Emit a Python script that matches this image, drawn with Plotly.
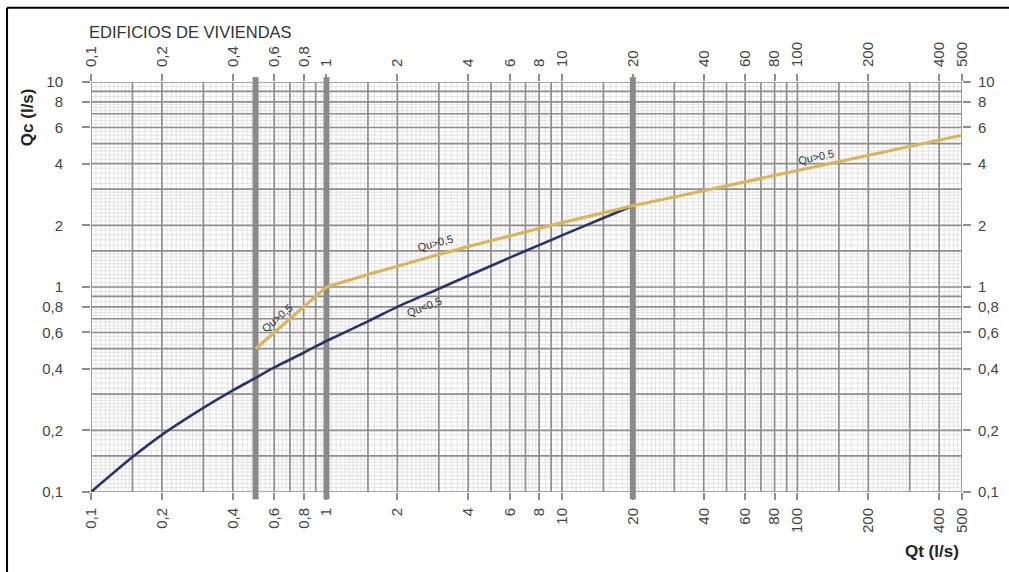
import numpy as np
import plotly.graph_objects as go

# ---- data -------------------------------------------------------------
# Qu < 0,5 curve (Qt -> Qc, l/s)
qt_low = [0.1, 0.15, 0.2, 0.3, 0.4, 0.5, 0.6, 0.8, 1, 1.5, 2, 3, 4, 6, 8, 10, 15, 20]
qc_low = [0.10, 0.148, 0.19, 0.257, 0.313, 0.36, 0.405, 0.478, 0.545, 0.68, 0.80,
          0.98, 1.135, 1.39, 1.60, 1.785, 2.17, 2.49]

# Qu > 0,5 curve
qt_high = [0.5, 0.7, 1, 1.5, 2, 3, 4, 6, 8, 10, 15, 20, 40, 100, 200, 500]
qc_high = [0.5, 0.7, 1.0, 1.15, 1.267, 1.44, 1.575, 1.777, 1.93, 2.06, 2.30, 2.49,
           2.95, 3.70, 4.38, 5.5]

# tick positions and labels
x_ticks = [0.1, 0.2, 0.4, 0.6, 0.8, 1, 2, 4, 6, 8, 10, 20, 40, 60, 80, 100, 200, 400, 500]
x_tick_text = ["0,1", "0,2", "0,4", "0,6", "0,8", "1", "2", "4", "6", "8", "10", "20",
               "40", "60", "80", "100", "200", "400", "500"]
y_ticks = [0.1, 0.2, 0.4, 0.6, 0.8, 1, 2, 4, 6, 8, 10]
y_tick_text = ["0,1", "0,2", "0,4", "0,6", "0,8", "1", "2", "4", "6", "8", "10"]

# heavy reference lines
heavy_x = [0.5, 1, 20]

X_MIN, X_MAX = 0.1, 500
Y_MIN, Y_MAX = 0.1, 10

# ---- grid helpers -----------------------------------------------------
def log_paper_grid(vmin, vmax, pattern):
    vals = []
    for dec in [0.01, 0.1, 1, 10, 100, 1000]:
        for a, b, step in pattern:
            n = int(round((b - a) / step))
            for k in range(n + 1):
                v = round(dec * (a + k * step), 6)
                if vmin - 1e-9 <= v <= vmax + 1e-9:
                    vals.append(v)
    return sorted(set(vals))

minor_pattern = [(1, 1.5, 0.05), (1.5, 2, 0.1), (2, 3, 0.1), (3, 5, 0.2),
                 (5, 8, 0.25), (8, 10, 0.5)]
major_pattern = [(1, 1.5, 0.5), (1.5, 2, 0.5), (2, 10, 1)]

minor_x = log_paper_grid(X_MIN, X_MAX, minor_pattern)
minor_y = log_paper_grid(Y_MIN, Y_MAX, minor_pattern)
major_x = log_paper_grid(X_MIN, X_MAX, major_pattern)
major_y = log_paper_grid(Y_MIN, Y_MAX, major_pattern)


def segs_vertical(xs):
    xx, yy = [], []
    for v in xs:
        xx += [v, v, None]
        yy += [Y_MIN, Y_MAX, None]
    return xx, yy


def segs_horizontal(ys):
    xx, yy = [], []
    for v in ys:
        xx += [X_MIN, X_MAX, None]
        yy += [v, v, None]
    return xx, yy


fig = go.Figure()

MINOR_C = "#dcdcdc"
MAJOR_C = "#8e8e8e"
HEAVY_C = "#8a8a8a"

for fn, vals, col, w in [(segs_vertical, minor_x, MINOR_C, 0.8),
                         (segs_horizontal, minor_y, MINOR_C, 0.8),
                         (segs_vertical, major_x, MAJOR_C, 1.7),
                         (segs_horizontal, major_y, MAJOR_C, 1.7),
                         (segs_vertical, heavy_x, HEAVY_C, 6)]:
    xx, yy = fn(vals)
    fig.add_trace(go.Scatter(x=xx, y=yy, mode="lines",
                             line=dict(color=col, width=w),
                             hoverinfo="skip", showlegend=False))

# curves
fig.add_trace(go.Scatter(x=qt_low, y=qc_low, mode="lines",
                         line=dict(color="#28356c", width=2.6, shape="spline", smoothing=0.6),
                         name="Qu<0,5", showlegend=False))
fig.add_trace(go.Scatter(x=qt_high, y=qc_high, mode="lines",
                         line=dict(color="#dcb55b", width=3.2),
                         name="Qu>0,5", showlegend=False))

# invisible trace that carries the mirrored (top/right) axes
fig.add_trace(go.Scatter(x=[1], y=[1], xaxis="x2", yaxis="y2", mode="markers",
                         marker=dict(opacity=0), hoverinfo="skip", showlegend=False))

FONT = "Liberation Sans, Arial, sans-serif"
tick_font = dict(family=FONT, size=15, color="#444444")

xcommon = dict(type="log", range=[np.log10(X_MIN), np.log10(X_MAX)],
               tickmode="array", tickvals=x_ticks, ticktext=x_tick_text,
               tickangle=-90, ticks="outside", ticklen=7, tickwidth=1.7,
               tickcolor=MAJOR_C, showgrid=False, zeroline=False, showline=False,
               tickfont=tick_font, fixedrange=True, automargin=False)
ycommon = dict(type="log", range=[np.log10(Y_MIN), np.log10(Y_MAX)],
               tickmode="array", tickvals=y_ticks, ticktext=y_tick_text,
               ticks="outside", ticklen=8, tickwidth=1.7,
               tickcolor=MAJOR_C, showgrid=False, zeroline=False, showline=False,
               tickfont=tick_font, fixedrange=True, automargin=False)

fig.update_layout(
    width=1009, height=572,
    margin=dict(l=91, r=47, t=82, b=80, autoexpand=False),
    paper_bgcolor="white", plot_bgcolor="white",
    showlegend=False,
    xaxis=dict(**xcommon, side="bottom", ticklabelstandoff=2),
    xaxis2=dict(**xcommon, side="top", overlaying="x", anchor="y", ticklabelstandoff=4),
    yaxis=dict(**ycommon, side="left", ticklabelstandoff=16),
    yaxis2=dict(**ycommon, side="right", overlaying="y", anchor="x", ticklabelstandoff=4),
)

# heavy lines poke slightly past the plot frame
for hx in heavy_x:
    for y0, y1 in [(1.0, 1.012), (-0.018, 0.0)]:
        fig.add_shape(type="line", xref="x", yref="paper",
                      x0=hx, x1=hx, y0=y0, y1=y1,
                      line=dict(color=HEAVY_C, width=6))

# outer frame (left and top edges)
fig.add_shape(type="line", xref="paper", yref="paper",
              x0=-0.0964, x1=-0.0964, y0=1.181, y1=-0.3,
              line=dict(color="black", width=2))
fig.add_shape(type="line", xref="paper", yref="paper",
              x0=-0.0964, x1=1.1, y0=1.181, y1=1.181,
              line=dict(color="black", width=2))

# titles
fig.add_annotation(text="EDIFICIOS DE VIVIENDAS", xref="paper", yref="paper",
                   x=-0.005, y=1.122, xanchor="left", yanchor="middle",
                   showarrow=False, font=dict(family=FONT, size=16.5, color="#333333"))
fig.add_annotation(text="<b>Qc (l/s)</b>", xref="paper", yref="paper",
                   x=-0.072, y=0.915, xanchor="center", yanchor="middle", textangle=-90,
                   showarrow=False, font=dict(family=FONT, size=17, color="#222222"))
fig.add_annotation(text="<b>Qt (l/s)</b>", xref="paper", yref="paper",
                   x=0.966, y=-0.144, xanchor="center", yanchor="middle",
                   showarrow=False, font=dict(family=FONT, size=17, color="#222222"))

# curve labels
curve_labels = [
    ("Qu>0,5", 0.617, 0.706, -41),
    ("Qu>0,5", 2.89, 1.64, -15),
    ("Qu<0,5", 2.59, 0.80, -21),
    ("Qu>0.5", 119.8, 4.30, -12),
]
for txt, lx, ly, ang in curve_labels:
    fig.add_annotation(text=txt, x=np.log10(lx), y=np.log10(ly), xref="x", yref="y",
                       showarrow=False, textangle=ang,
                       font=dict(family=FONT, size=11, color="#333333"))

fig.write_html("out.html")
